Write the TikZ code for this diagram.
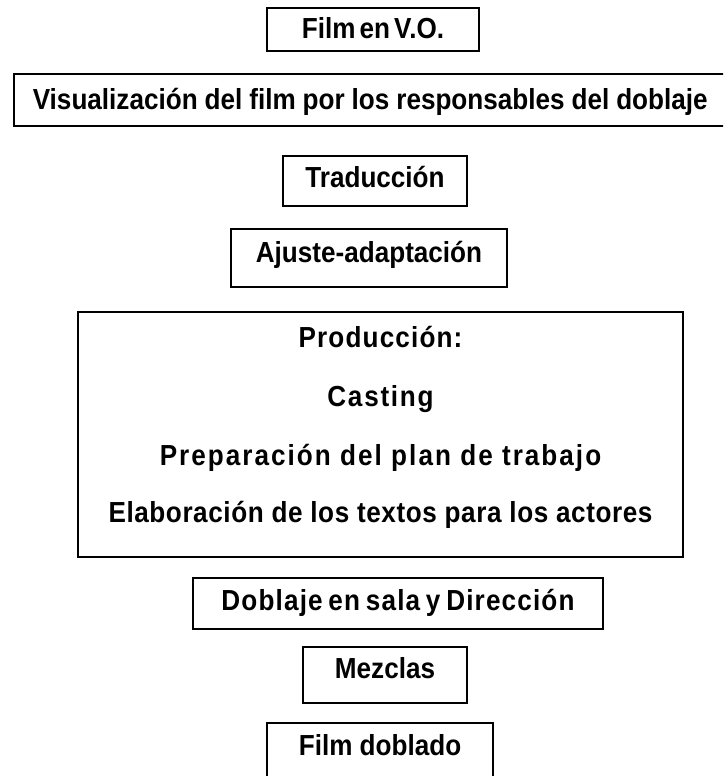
\documentclass[tikz,border=0pt]{standalone}
\usepackage{fontspec}
\setmainfont{Liberation Sans}[FakeStretch=0.9]
\newcommand{\tight}[1][0.14em]{\spaceskip=#1\relax}
\begin{document}
\begin{tikzpicture}[x=1pt,y=-1pt]
	\tikzstyle{box}=[draw,line width=1.6pt,anchor=base,inner ysep=0pt,font=\bfseries\fontsize{29}{34}\selectfont]
	\tikzstyle{line}=[anchor=base,inner sep=0pt,font=\bfseries\fontsize{29}{34}\selectfont]
	\useasboundingbox (0,0) rectangle (723,776);
	\clip (0,0) rectangle (723,776);
	\node[box,minimum width=212pt,text height=31pt,text depth=12pt] (film) at (373,39) {\tight Film en V.O.};
	\node[box,anchor=base west,inner xsep=19pt,text width=700pt,align=left,text height=35pt,text depth=17pt] (visual) at (13,109) {\tight[0.24em]Visualización del film por los responsables del doblaje};
	\node[box,minimum width=184pt,text height=31pt,text depth=19pt] (trad) at (375,187) {Traducción};
	\node[box,minimum width=276pt,text height=33pt,text depth=25pt] (ajuste) at (369,262) {Ajuste-adaptación};
	\node[box,minimum width=605pt,text height=35pt,text depth=210pt] (prod) at (380.5,347) {\addfontfeature{LetterSpace=4}Producción:};
	\foreach \t/\y/\s [count=\i] in {Casting/406/6, Preparación del plan de trabajo/465/7, Elaboración de los textos para los actores/522/2}
		\node[line] (prod_\i) at (380.5,\y) {\addfontfeature{LetterSpace=\s}\t};
	\node[box,minimum width=410pt,text height=32pt,text depth=19pt] (dob) at (398,610) {\addfontfeature{LetterSpace=4}\tight[0.2em]Doblaje en sala y Dirección};
	\node[box,minimum width=164pt,text height=31pt,text depth=25pt] (mez) at (385,678) {Mezclas};
	\node[box,minimum width=226pt,text height=32pt,text depth=45pt] (fdob) at (380,755) {Film doblado};
\end{tikzpicture}
\end{document}
